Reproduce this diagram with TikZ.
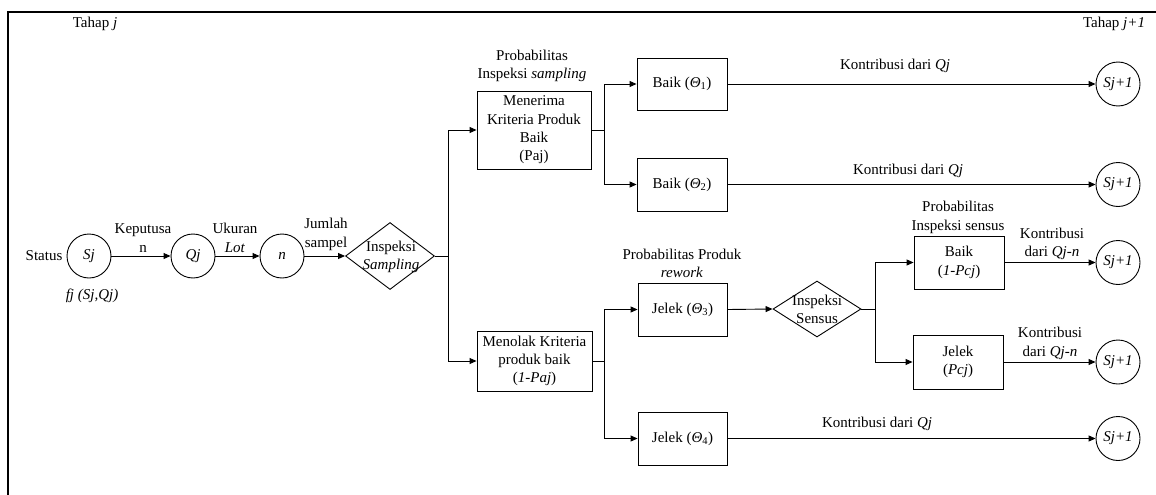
\documentclass[tikz,border=0pt]{standalone}
\usepackage{fontspec}
\setmainfont{Liberation Serif}
\usetikzlibrary{arrows.meta,shapes.geometric}
\begin{document}
\begin{tikzpicture}[x=1pt,y=-1pt,
  every node/.style={font=\fontsize{15}{18.3}\selectfont, inner sep=0pt},
  txt/.style={align=center},
  crc/.style={circle,draw,line width=0.9pt,minimum size=44pt},
  boxn/.style={draw,line width=0.9pt,align=center},
  dia/.style={diamond,draw,line width=0.9pt,inner sep=0pt},
  arr/.style={line width=0.9pt,-{Triangle[length=7pt,width=6pt]}},
  ln/.style={line width=0.9pt}]
\useasboundingbox (0,0) rectangle (1156,495);
\draw[line width=2.2pt] (8,495) -- (8,12) -- (1156,12);

% top labels
\node[txt] (tj) at (95,24) {Tahap \textit{j}};
\node[txt] (tj1) at (1114,24) {Tahap \textit{j+1}};

% left chain
\node[txt] (status) at (44,256) {Status};
\node[crc] (sj) at (89,256) {\textit{Sj}};
\node[txt] (fj) at (92,296) {\textit{fj (Sj,Qj)}};
\node[crc] (qj) at (193,256) {\textit{Qj}};
\node[crc] (nn) at (282,256) {\textit{n}};
\node[dia,minimum width=89pt,minimum height=67pt] (d1) at (390,256) {};
\node[txt] (d1t) at (391,257) {Inspeksi\\\textit{Sampling}};

\node[txt] (lk) at (143,238) {Keputusa\\n};
\node[txt] (lu) at (235,238) {Ukuran\\\textit{Lot}};
\node[txt] (lj) at (326,234.5) {Jumlah\\sampel};

\draw[arr] (sj) -- (qj);
\draw[arr] (qj) -- (nn);
\draw[arr] (nn) -- (d1);

% first branching
\coordinate (j1) at (448,256);
\node[boxn,minimum width=114pt,minimum height=78pt] (acc) at (534,130)
  {Menerima\\Kriteria Produk\\Baik\\(Paj)};
\node[boxn,minimum width=115pt,minimum height=60pt] (rej) at (534.5,361)
  {Menolak Kriteria\\produk baik\\(\textit{1-Paj})};
\node[txt] (lps) at (532,66) {Probabilitas\\Inspeksi \textit{sampling}};
\draw[ln] (d1.east) -- (j1);
\draw[arr] (j1) |- (acc.west);
\draw[arr] (j1) |- (rej.west);

% upper branches
\coordinate (j2) at (604,130);
\node[boxn,minimum width=90pt,minimum height=52pt] (b1) at (682,84)
  {Baik (\textit{Θ}\textsubscript{1})};
\node[boxn,minimum width=90pt,minimum height=53pt] (b2) at (682,184.5)
  {Baik (\textit{Θ}\textsubscript{2})};
\draw[ln] (acc.east) -- (j2);
\draw[arr] (j2) |- (b1.west);
\draw[arr] (j2) |- (b2.west);

% lower branches
\coordinate (j3) at (604,361);
\node[boxn,minimum width=89pt,minimum height=53pt] (b3) at (682.5,309.5)
  {Jelek (\textit{Θ}\textsubscript{3})};
\node[boxn,minimum width=89pt,minimum height=53pt] (b4) at (682.5,438.5)
  {Jelek (\textit{Θ}\textsubscript{4})};
\node[txt] (lpr) at (682,263.5) {Probabilitas Produk\\\textit{rework}};
\draw[ln] (rej.east) -- (j3);
\draw[arr] (j3) |- (b3.west);
\draw[arr] (j3) |- (b4.west);

% census inspection
\node[dia,minimum width=88pt,minimum height=56pt] (d2) at (817,309) {};
\node[txt] (d2t) at (817,309.5) {Inspeksi\\Sensus};
\draw[arr] (b3.east) -- (d2.west);
\coordinate (j4) at (875,309);
\node[boxn,minimum width=90pt,minimum height=53pt] (b5) at (959,262.5)
  {Baik\\(\textit{1-Pcj})};
\node[boxn,minimum width=90pt,minimum height=54pt] (b6) at (958,362)
  {Jelek\\(\textit{Pcj})};
\node[txt] (lpc) at (958,217.5) {Probabilitas\\Inspeksi sensus};
\draw[ln] (d2.east) -- (j4);
\draw[arr] (j4) |- (b5.west);
\draw[arr] (j4) |- (b6.west);

% next stage states
\node[crc] (s1) at (1118,84) {\textit{Sj+1}};
\node[crc] (s2) at (1118,184.5) {\textit{Sj+1}};
\node[crc] (s3) at (1118,262.5) {\textit{Sj+1}};
\node[crc] (s4) at (1118,362) {\textit{Sj+1}};
\node[crc] (s5) at (1118,438.5) {\textit{Sj+1}};
\draw[arr] (b1.east) -- (s1);
\draw[arr] (b2.east) -- (s2);
\draw[arr] (b5.east) -- (s3);
\draw[arr] (b6.east) -- (s4);
\draw[arr] (b4.east) -- (s5);

\node[txt] (k1) at (895,66) {Kontribusi dari \textit{Qj}};
\node[txt] (k2) at (908,171) {Kontribusi dari \textit{Qj}};
\node[txt] (k3) at (1052,244) {Kontribusi\\dari \textit{Qj-n}};
\node[txt] (k4) at (1050,343.5) {Kontribusi\\dari \textit{Qj-n}};
\node[txt] (k5) at (877,424) {Kontribusi dari \textit{Qj}};
\end{tikzpicture}
\end{document}
